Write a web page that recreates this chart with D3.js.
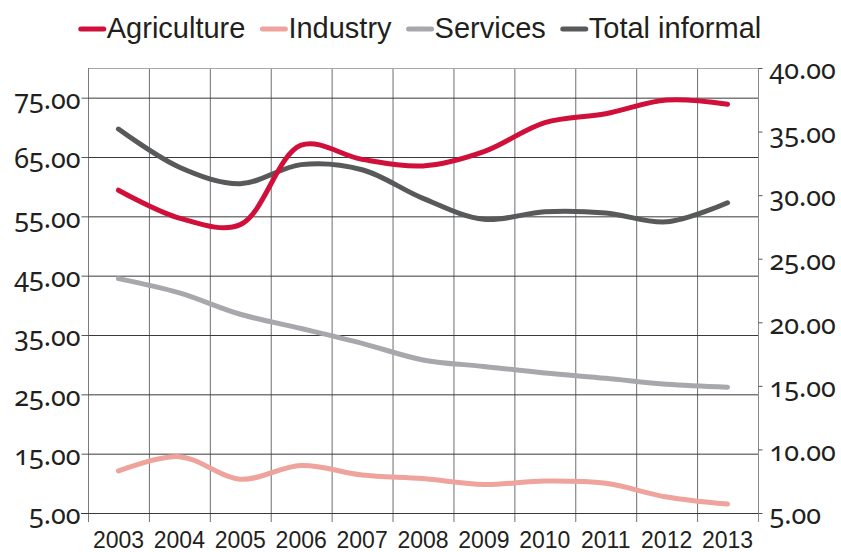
<!DOCTYPE html>
<html>
<head>
<meta charset="utf-8">
<script src="https://cdn.jsdelivr.net/npm/d3@7"></script>
<style>
  html, body { margin: 0; padding: 0; background: #fff; }
  svg { display: block; }
  .num { font-family: "Noto Sans", sans-serif; font-variant-numeric: oldstyle-nums; font-feature-settings: "onum" 1; }
</style>
</head>
<body>
<svg id="chart" width="841" height="552"></svg>
<script>
const years = ["2003","2004","2005","2006","2007","2008","2009","2010","2011","2012","2013"];
const agriculture   = [59.4, 54.7, 53.6, 67.0, 64.6, 63.5, 65.9, 70.8, 72.3, 74.6, 73.9];
const industry      = [12.1, 14.5, 10.7, 13.0, 11.4, 10.8, 9.8, 10.4, 10.0, 7.7, 6.5];
const services      = [44.5, 42.1, 38.5, 36.1, 33.6, 30.8, 29.7, 28.6, 27.7, 26.7, 26.2];
const totalInformal = [35.2, 32.2, 30.9, 32.4, 32.0, 29.75, 28.1, 28.7, 28.6, 27.9, 29.4];
const leftTicks  = [5, 15, 25, 35, 45, 55, 65, 75];
const rightTicks = [5, 10, 15, 20, 25, 30, 35, 40];

const seriesNames  = ["Agriculture", "Industry", "Services", "Total informal"];
const seriesColors = ["#d0103a", "#eea39d", "#a7a8ac", "#58595b"];
const seriesAxis   = ["left", "left", "left", "right"];
const seriesValues = [agriculture, industry, services, totalInformal];

const L = 88, R = 758, T = 68, B = 513;
const svg = d3.select("#chart");

const x = d3.scaleBand().domain(years).range([L, R]).padding(0);
const yL = d3.scaleLinear().domain([5, 80]).range([B, T]);
const yR = d3.scaleLinear().domain([5, 40]).range([B, T]);

// vertical gridlines at band edges (extend below axis as ticks)
const edges = years.map(d => x(d)).concat([R]);
svg.append("g").selectAll("line").data(edges.slice(1, -1)).join("line")
  .attr("x1", d => d + 0.5).attr("x2", d => d + 0.5)
  .attr("y1", T).attr("y2", B + 9)
  .attr("stroke", "#6d6e70").attr("stroke-width", 1);

// top border
svg.append("line").attr("x1", L).attr("x2", R).attr("y1", T + 0.5).attr("y2", T + 0.5)
  .attr("stroke", "#a8a8a8").attr("stroke-width", 1);

// left axis with gridlines
const gL = svg.append("g").attr("transform", `translate(${L + 0.5},0)`)
  .call(d3.axisLeft(yL).tickValues(leftTicks).tickSize(7).tickPadding(1).tickFormat(d3.format(".2f")));
gL.select(".domain").attr("stroke", "#7a7a7a").attr("d", `M0,${T}V${B + 9}`);
gL.selectAll(".tick line").attr("stroke", "#555");
gL.selectAll(".tick").append("line")
  .attr("x1", 0).attr("x2", R - L).attr("stroke", "#3a3a3a").attr("stroke-width", 1);
gL.selectAll(".tick text").attr("class", "num").attr("font-size", 27).attr("fill", "#231f20").attr("dy", "0.4em");

// right axis
const gR = svg.append("g").attr("transform", `translate(${R + 0.5},0)`)
  .call(d3.axisRight(yR).tickValues(rightTicks).tickSize(4).tickPadding(7).tickFormat(d3.format(".2f")));
gR.select(".domain").attr("stroke", "#8a8a8a").attr("d", `M0,${T}V${B + 9}`);
gR.selectAll(".tick line").attr("stroke", "#555");
gR.selectAll(".tick text").attr("class", "num").attr("font-size", 27).attr("fill", "#231f20").attr("dy", "0.4em");

// bottom axis
const gB = svg.append("g").attr("transform", `translate(0,${B + 0.5})`)
  .call(d3.axisBottom(x).tickSize(0).tickPadding(28));
gB.select(".domain").attr("stroke", "#3a3a3a").attr("d", `M${L - 7},0H${R}`);
gB.selectAll(".tick text").attr("font-family", "Liberation Sans, Arial, sans-serif")
  .attr("font-size", 23).attr("fill", "#231f20").attr("dy", "0.3em");

// lines
const line = (scale) => d3.line()
  .x((d, i) => x(years[i]) + x.bandwidth() / 2)
  .y(d => scale(d))
  .curve(d3.curveCatmullRom.alpha(0.5));

const order = [2, 1, 3, 0];
order.forEach(k => {
  const sc = seriesAxis[k] === "left" ? yL : yR;
  svg.append("path").datum(seriesValues[k])
    .attr("d", line(sc))
    .attr("fill", "none")
    .attr("stroke", seriesColors[k])
    .attr("stroke-width", 5)
    .attr("stroke-linecap", "round")
    .attr("stroke-linejoin", "round");
});

// legend
const lg = svg.append("g");
let cx = 0;
const gap = 15;
seriesNames.forEach((n, k) => {
  const it = lg.append("g").attr("transform", `translate(${cx},0)`);
  it.append("line").attr("x1", 2).attr("x2", 25).attr("y1", 29).attr("y2", 29)
    .attr("stroke", seriesColors[k]).attr("stroke-width", 5).attr("stroke-linecap", "round");
  const t = it.append("text").attr("x", 28).attr("y", 38).text(n)
    .attr("font-family", "Liberation Sans, Arial, sans-serif").attr("font-size", 29).attr("fill", "#231f20");
  cx += 28 + t.node().getComputedTextLength() + gap;
});
const lw = cx - gap;
lg.attr("transform", `translate(${420 - lw / 2},0)`);
</script>
</body>
</html>
